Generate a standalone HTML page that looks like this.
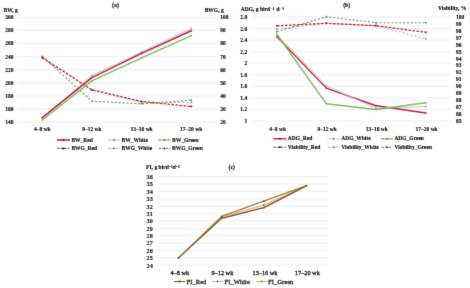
<!DOCTYPE html>
<html><head><meta charset="utf-8"><style>
html,body{margin:0;padding:0;background:#fff;}
body{width:470px;height:288px;overflow:hidden;}
svg{display:block;font-family:"Liberation Serif", serif;will-change:transform;}
</style></head><body>
<svg width="470" height="288" viewBox="0 0 470 288">
<defs><filter id="bl" x="0" y="0" width="470" height="288" filterUnits="userSpaceOnUse" color-interpolation-filters="sRGB"><feConvolveMatrix order="3" kernelMatrix="0 1 0 1 8 1 0 1 0" edgeMode="none"/></filter></defs>
<rect width="470" height="288" fill="#fff"/>
<g filter="url(#bl)">
<rect width="470" height="288" fill="#fff"/>
<line x1="17.50" y1="17.30" x2="216.00" y2="17.30" stroke="#e6e6e6" stroke-width="0.6" />
<text x="13.50" y="19.17" font-size="5.5" text-anchor="end" font-weight="bold" fill="#111" stroke="#111" stroke-width="0.15" >300</text>
<text x="220.20" y="19.17" font-size="5.5" text-anchor="start" font-weight="bold" fill="#111" stroke="#111" stroke-width="0.15" >100</text>
<line x1="17.50" y1="30.41" x2="216.00" y2="30.41" stroke="#e6e6e6" stroke-width="0.6" />
<text x="13.50" y="32.28" font-size="5.5" text-anchor="end" font-weight="bold" fill="#111" stroke="#111" stroke-width="0.15" >280</text>
<text x="220.20" y="32.28" font-size="5.5" text-anchor="start" font-weight="bold" fill="#111" stroke="#111" stroke-width="0.15" >90</text>
<line x1="17.50" y1="43.53" x2="216.00" y2="43.53" stroke="#e6e6e6" stroke-width="0.6" />
<text x="13.50" y="45.40" font-size="5.5" text-anchor="end" font-weight="bold" fill="#111" stroke="#111" stroke-width="0.15" >260</text>
<text x="220.20" y="45.40" font-size="5.5" text-anchor="start" font-weight="bold" fill="#111" stroke="#111" stroke-width="0.15" >80</text>
<line x1="17.50" y1="56.64" x2="216.00" y2="56.64" stroke="#e6e6e6" stroke-width="0.6" />
<text x="13.50" y="58.51" font-size="5.5" text-anchor="end" font-weight="bold" fill="#111" stroke="#111" stroke-width="0.15" >240</text>
<text x="220.20" y="58.51" font-size="5.5" text-anchor="start" font-weight="bold" fill="#111" stroke="#111" stroke-width="0.15" >70</text>
<line x1="17.50" y1="69.75" x2="216.00" y2="69.75" stroke="#e6e6e6" stroke-width="0.6" />
<text x="13.50" y="71.62" font-size="5.5" text-anchor="end" font-weight="bold" fill="#111" stroke="#111" stroke-width="0.15" >220</text>
<text x="220.20" y="71.62" font-size="5.5" text-anchor="start" font-weight="bold" fill="#111" stroke="#111" stroke-width="0.15" >60</text>
<line x1="17.50" y1="82.86" x2="216.00" y2="82.86" stroke="#e6e6e6" stroke-width="0.6" />
<text x="13.50" y="84.73" font-size="5.5" text-anchor="end" font-weight="bold" fill="#111" stroke="#111" stroke-width="0.15" >200</text>
<text x="220.20" y="84.73" font-size="5.5" text-anchor="start" font-weight="bold" fill="#111" stroke="#111" stroke-width="0.15" >50</text>
<line x1="17.50" y1="95.98" x2="216.00" y2="95.98" stroke="#e6e6e6" stroke-width="0.6" />
<text x="13.50" y="97.85" font-size="5.5" text-anchor="end" font-weight="bold" fill="#111" stroke="#111" stroke-width="0.15" >180</text>
<text x="220.20" y="97.85" font-size="5.5" text-anchor="start" font-weight="bold" fill="#111" stroke="#111" stroke-width="0.15" >40</text>
<line x1="17.50" y1="109.09" x2="216.00" y2="109.09" stroke="#e6e6e6" stroke-width="0.6" />
<text x="13.50" y="110.96" font-size="5.5" text-anchor="end" font-weight="bold" fill="#111" stroke="#111" stroke-width="0.15" >160</text>
<text x="220.20" y="110.96" font-size="5.5" text-anchor="start" font-weight="bold" fill="#111" stroke="#111" stroke-width="0.15" >30</text>
<line x1="17.50" y1="122.20" x2="216.00" y2="122.20" stroke="#e6e6e6" stroke-width="0.6" />
<text x="13.50" y="124.07" font-size="5.5" text-anchor="end" font-weight="bold" fill="#111" stroke="#111" stroke-width="0.15" >140</text>
<text x="220.20" y="124.07" font-size="5.5" text-anchor="start" font-weight="bold" fill="#111" stroke="#111" stroke-width="0.15" >20</text>
<text x="3.50" y="11.77" font-size="5.5" text-anchor="start" font-weight="bold" fill="#111" stroke="#111" stroke-width="0.15" >BW, g</text>
<text x="204.70" y="11.87" font-size="5.5" text-anchor="start" font-weight="bold" fill="#111" stroke="#111" stroke-width="0.15" >BWG, g</text>
<text x="115.50" y="7.07" font-size="5.8" text-anchor="middle" font-weight="bold" fill="#111" stroke="#111" stroke-width="0.15" >(a)</text>
<text x="42.30" y="131.27" font-size="5.5" text-anchor="middle" font-weight="bold" fill="#111" stroke="#111" stroke-width="0.15" >4–8 wk</text>
<text x="91.90" y="131.27" font-size="5.5" text-anchor="middle" font-weight="bold" fill="#111" stroke="#111" stroke-width="0.15" >9–12 wk</text>
<text x="141.60" y="131.27" font-size="5.5" text-anchor="middle" font-weight="bold" fill="#111" stroke="#111" stroke-width="0.15" >13–16 wk</text>
<text x="191.20" y="131.27" font-size="5.5" text-anchor="middle" font-weight="bold" fill="#111" stroke="#111" stroke-width="0.15" >17–20 wk</text>
<polyline points="42.30,56.64 91.90,90.07 141.60,102.53 191.20,102.53" fill="none" stroke="#b0b0b0" stroke-width="1.0" stroke-linejoin="round" stroke-dasharray="2.1,2" />
<circle cx="42.30" cy="56.64" r="1.0" fill="#999"/>
<circle cx="91.90" cy="90.07" r="1.0" fill="#999"/>
<circle cx="141.60" cy="102.53" r="1.0" fill="#999"/>
<circle cx="191.20" cy="102.53" r="1.0" fill="#999"/>
<polyline points="42.30,56.38 91.90,101.22 141.60,103.84 191.20,100.17" fill="none" stroke="#5fa552" stroke-width="1.1" stroke-linejoin="round" stroke-dasharray="2.1,1.8" />
<circle cx="42.30" cy="56.38" r="1.0" fill="#5fa552"/>
<circle cx="91.90" cy="101.22" r="1.0" fill="#5fa552"/>
<circle cx="141.60" cy="103.84" r="1.0" fill="#5fa552"/>
<circle cx="191.20" cy="100.17" r="1.0" fill="#5fa552"/>
<polyline points="42.30,57.95 91.90,89.81 141.60,101.48 191.20,106.47" fill="none" stroke="#d41a3c" stroke-width="1.3" stroke-linejoin="round" stroke-dasharray="2.6,1.4" />
<circle cx="42.30" cy="57.95" r="1.1" fill="#d41a3c"/>
<circle cx="91.90" cy="89.81" r="1.1" fill="#d41a3c"/>
<circle cx="141.60" cy="101.48" r="1.1" fill="#d41a3c"/>
<circle cx="191.20" cy="106.47" r="1.1" fill="#d41a3c"/>
<polyline points="42.30,118.27 91.90,75.65 141.60,52.05 191.20,28.45" fill="none" stroke="#c0c0c0" stroke-width="1.0" stroke-linejoin="round" />
<circle cx="42.30" cy="118.27" r="0.9" fill="#999"/>
<circle cx="91.90" cy="75.65" r="0.9" fill="#999"/>
<circle cx="141.60" cy="52.05" r="0.9" fill="#999"/>
<circle cx="191.20" cy="28.45" r="0.9" fill="#999"/>
<polyline points="42.30,119.91 91.90,80.90 141.60,57.95 191.20,35.66" fill="none" stroke="#72c25c" stroke-width="1.35" stroke-linejoin="round" />
<circle cx="42.30" cy="119.91" r="0.9" fill="#72c25c"/>
<circle cx="91.90" cy="80.90" r="0.9" fill="#72c25c"/>
<circle cx="141.60" cy="57.95" r="0.9" fill="#72c25c"/>
<circle cx="191.20" cy="35.66" r="0.9" fill="#72c25c"/>
<polyline points="42.30,117.61 91.90,77.62 141.60,53.36 191.20,30.74" fill="none" stroke="#d41a3c" stroke-width="1.55" stroke-linejoin="round" />
<circle cx="42.30" cy="117.61" r="0.9" fill="#d41a3c"/>
<circle cx="91.90" cy="77.62" r="0.9" fill="#d41a3c"/>
<circle cx="141.60" cy="53.36" r="0.9" fill="#d41a3c"/>
<circle cx="191.20" cy="30.74" r="0.9" fill="#d41a3c"/>
<line x1="56.80" y1="140.00" x2="70.00" y2="140.00" stroke="#d41a3c" stroke-width="1.55" />
<circle cx="63.40" cy="140.00" r="1.15" fill="#c8102e"/>
<text x="71.40" y="141.57" font-size="5.5" text-anchor="start" font-weight="bold" fill="#111" stroke="#111" stroke-width="0.15" >BW_Red</text>
<line x1="57.40" y1="148.40" x2="69.40" y2="148.40" stroke="#4a3418" stroke-width="1.0" stroke-dasharray="2.2,1.3" />
<circle cx="63.40" cy="148.40" r="1.0" fill="#2a1a08"/>
<text x="71.40" y="149.97" font-size="5.5" text-anchor="start" font-weight="bold" fill="#111" stroke="#111" stroke-width="0.15" >BWG_Red</text>
<line x1="107.80" y1="140.00" x2="120.20" y2="140.00" stroke="#c0c0c0" stroke-width="1.0" />
<circle cx="114.00" cy="140.00" r="1.15" fill="#909090"/>
<text x="121.60" y="141.57" font-size="5.5" text-anchor="start" font-weight="bold" fill="#111" stroke="#111" stroke-width="0.15" >BW_White</text>
<line x1="108.40" y1="148.40" x2="119.60" y2="148.40" stroke="#a8a8a8" stroke-width="1.0" stroke-dasharray="2.2,1.3" />
<circle cx="114.00" cy="148.40" r="1.0" fill="#808080"/>
<text x="121.60" y="149.97" font-size="5.5" text-anchor="start" font-weight="bold" fill="#111" stroke="#111" stroke-width="0.15" >BWG_White</text>
<line x1="158.30" y1="140.00" x2="170.70" y2="140.00" stroke="#72c25c" stroke-width="1.35" />
<circle cx="164.50" cy="140.00" r="1.15" fill="#5fb040"/>
<text x="172.10" y="141.57" font-size="5.5" text-anchor="start" font-weight="bold" fill="#111" stroke="#111" stroke-width="0.15" >BW_Green</text>
<line x1="158.90" y1="148.40" x2="170.10" y2="148.40" stroke="#5d7044" stroke-width="1.0" stroke-dasharray="2.2,1.3" />
<circle cx="164.50" cy="148.40" r="1.0" fill="#3d5024"/>
<text x="172.10" y="149.97" font-size="5.5" text-anchor="start" font-weight="bold" fill="#111" stroke="#111" stroke-width="0.15" >BWG_Green</text>
<line x1="250.00" y1="17.10" x2="451.00" y2="17.10" stroke="#e6e6e6" stroke-width="0.6" />
<text x="247.20" y="18.97" font-size="5.5" text-anchor="end" font-weight="bold" fill="#111" stroke="#111" stroke-width="0.15" >2.8</text>
<line x1="250.00" y1="28.64" x2="451.00" y2="28.64" stroke="#e6e6e6" stroke-width="0.6" />
<text x="247.20" y="30.51" font-size="5.5" text-anchor="end" font-weight="bold" fill="#111" stroke="#111" stroke-width="0.15" >2.6</text>
<line x1="250.00" y1="40.19" x2="451.00" y2="40.19" stroke="#e6e6e6" stroke-width="0.6" />
<text x="247.20" y="42.06" font-size="5.5" text-anchor="end" font-weight="bold" fill="#111" stroke="#111" stroke-width="0.15" >2.4</text>
<line x1="250.00" y1="51.73" x2="451.00" y2="51.73" stroke="#e6e6e6" stroke-width="0.6" />
<text x="247.20" y="53.60" font-size="5.5" text-anchor="end" font-weight="bold" fill="#111" stroke="#111" stroke-width="0.15" >2.2</text>
<line x1="250.00" y1="63.28" x2="451.00" y2="63.28" stroke="#e6e6e6" stroke-width="0.6" />
<text x="247.20" y="65.15" font-size="5.5" text-anchor="end" font-weight="bold" fill="#111" stroke="#111" stroke-width="0.15" >2</text>
<line x1="250.00" y1="74.82" x2="451.00" y2="74.82" stroke="#e6e6e6" stroke-width="0.6" />
<text x="247.20" y="76.69" font-size="5.5" text-anchor="end" font-weight="bold" fill="#111" stroke="#111" stroke-width="0.15" >1.8</text>
<line x1="250.00" y1="86.37" x2="451.00" y2="86.37" stroke="#e6e6e6" stroke-width="0.6" />
<text x="247.20" y="88.24" font-size="5.5" text-anchor="end" font-weight="bold" fill="#111" stroke="#111" stroke-width="0.15" >1.6</text>
<line x1="250.00" y1="97.91" x2="451.00" y2="97.91" stroke="#e6e6e6" stroke-width="0.6" />
<text x="247.20" y="99.78" font-size="5.5" text-anchor="end" font-weight="bold" fill="#111" stroke="#111" stroke-width="0.15" >1.4</text>
<line x1="250.00" y1="109.46" x2="451.00" y2="109.46" stroke="#e6e6e6" stroke-width="0.6" />
<text x="247.20" y="111.33" font-size="5.5" text-anchor="end" font-weight="bold" fill="#111" stroke="#111" stroke-width="0.15" >1.2</text>
<line x1="250.00" y1="121.00" x2="451.00" y2="121.00" stroke="#e6e6e6" stroke-width="0.6" />
<text x="247.20" y="122.87" font-size="5.5" text-anchor="end" font-weight="bold" fill="#111" stroke="#111" stroke-width="0.15" >1</text>
<text x="456.00" y="18.97" font-size="5.5" text-anchor="start" font-weight="bold" fill="#111" stroke="#111" stroke-width="0.15" >100</text>
<text x="456.00" y="25.90" font-size="5.5" text-anchor="start" font-weight="bold" fill="#111" stroke="#111" stroke-width="0.15" >99</text>
<text x="456.00" y="32.82" font-size="5.5" text-anchor="start" font-weight="bold" fill="#111" stroke="#111" stroke-width="0.15" >98</text>
<text x="456.00" y="39.75" font-size="5.5" text-anchor="start" font-weight="bold" fill="#111" stroke="#111" stroke-width="0.15" >97</text>
<text x="456.00" y="46.68" font-size="5.5" text-anchor="start" font-weight="bold" fill="#111" stroke="#111" stroke-width="0.15" >96</text>
<text x="456.00" y="53.60" font-size="5.5" text-anchor="start" font-weight="bold" fill="#111" stroke="#111" stroke-width="0.15" >95</text>
<text x="456.00" y="60.53" font-size="5.5" text-anchor="start" font-weight="bold" fill="#111" stroke="#111" stroke-width="0.15" >94</text>
<text x="456.00" y="67.46" font-size="5.5" text-anchor="start" font-weight="bold" fill="#111" stroke="#111" stroke-width="0.15" >93</text>
<text x="456.00" y="74.38" font-size="5.5" text-anchor="start" font-weight="bold" fill="#111" stroke="#111" stroke-width="0.15" >92</text>
<text x="456.00" y="81.31" font-size="5.5" text-anchor="start" font-weight="bold" fill="#111" stroke="#111" stroke-width="0.15" >91</text>
<text x="456.00" y="88.24" font-size="5.5" text-anchor="start" font-weight="bold" fill="#111" stroke="#111" stroke-width="0.15" >90</text>
<text x="456.00" y="95.16" font-size="5.5" text-anchor="start" font-weight="bold" fill="#111" stroke="#111" stroke-width="0.15" >89</text>
<text x="456.00" y="102.09" font-size="5.5" text-anchor="start" font-weight="bold" fill="#111" stroke="#111" stroke-width="0.15" >88</text>
<text x="456.00" y="109.02" font-size="5.5" text-anchor="start" font-weight="bold" fill="#111" stroke="#111" stroke-width="0.15" >87</text>
<text x="456.00" y="115.94" font-size="5.5" text-anchor="start" font-weight="bold" fill="#111" stroke="#111" stroke-width="0.15" >86</text>
<text x="456.00" y="122.87" font-size="5.5" text-anchor="start" font-weight="bold" fill="#111" stroke="#111" stroke-width="0.15" >85</text>
<text x="240.80" y="11.07" font-size="5.5" text-anchor="start" font-weight="bold" fill="#111" stroke="#111" stroke-width="0.15" >ADG, g bird<tspan font-size="3.5" dx="0.9" dy="-1.2">−1</tspan><tspan dx="0.4" dy="1.2"> d</tspan><tspan font-size="3.5" dx="0.9" dy="-1.2">−1</tspan></text>
<text x="438.00" y="9.57" font-size="5.5" text-anchor="start" font-weight="bold" fill="#111" stroke="#111" stroke-width="0.15" >Viability, %</text>
<text x="346.70" y="7.47" font-size="5.8" text-anchor="middle" font-weight="bold" fill="#111" stroke="#111" stroke-width="0.15" >(b)</text>
<text x="277.70" y="130.67" font-size="5.5" text-anchor="middle" font-weight="bold" fill="#111" stroke="#111" stroke-width="0.15" >4–8 wk</text>
<text x="327.10" y="130.67" font-size="5.5" text-anchor="middle" font-weight="bold" fill="#111" stroke="#111" stroke-width="0.15" >9–12 wk</text>
<text x="376.80" y="130.67" font-size="5.5" text-anchor="middle" font-weight="bold" fill="#111" stroke="#111" stroke-width="0.15" >13–16 wk</text>
<text x="426.60" y="130.67" font-size="5.5" text-anchor="middle" font-weight="bold" fill="#111" stroke="#111" stroke-width="0.15" >17–20 wk</text>
<polyline points="276.90,29.08 326.30,23.33 376.00,25.69 425.80,38.78" fill="none" stroke="#b0b0b0" stroke-width="1.0" stroke-linejoin="round" stroke-dasharray="2.1,2" />
<circle cx="276.90" cy="29.08" r="1.0" fill="#999"/>
<circle cx="326.30" cy="23.33" r="1.0" fill="#999"/>
<circle cx="376.00" cy="25.69" r="1.0" fill="#999"/>
<circle cx="425.80" cy="38.78" r="1.0" fill="#999"/>
<polyline points="276.90,31.65 326.30,16.75 376.00,22.71 425.80,22.71" fill="none" stroke="#5fa552" stroke-width="1.1" stroke-linejoin="round" stroke-dasharray="2.1,1.8" />
<circle cx="276.90" cy="31.65" r="1.0" fill="#5fa552"/>
<circle cx="326.30" cy="16.75" r="1.0" fill="#5fa552"/>
<circle cx="376.00" cy="22.71" r="1.0" fill="#5fa552"/>
<circle cx="425.80" cy="22.71" r="1.0" fill="#5fa552"/>
<polyline points="276.90,25.76 326.30,23.33 376.00,25.69 425.80,32.34" fill="none" stroke="#d41a3c" stroke-width="1.3" stroke-linejoin="round" stroke-dasharray="2.6,1.4" />
<circle cx="276.90" cy="25.76" r="1.1" fill="#d41a3c"/>
<circle cx="326.30" cy="23.33" r="1.1" fill="#d41a3c"/>
<circle cx="376.00" cy="25.69" r="1.1" fill="#d41a3c"/>
<circle cx="425.80" cy="32.34" r="1.1" fill="#d41a3c"/>
<polyline points="276.90,36.73 326.30,88.10 376.00,105.76 425.80,113.03" fill="none" stroke="#d41a3c" stroke-width="1.35" stroke-linejoin="round" />
<circle cx="276.90" cy="36.73" r="0.9" fill="#d41a3c"/>
<circle cx="326.30" cy="88.10" r="0.9" fill="#d41a3c"/>
<circle cx="376.00" cy="105.76" r="0.9" fill="#d41a3c"/>
<circle cx="425.80" cy="113.03" r="0.9" fill="#d41a3c"/>
<polyline points="276.90,34.42 326.30,85.79 376.00,108.30 425.80,106.57" fill="none" stroke="#c0c0c0" stroke-width="0.9" stroke-linejoin="round" />
<circle cx="276.90" cy="34.42" r="0.9" fill="#999"/>
<circle cx="326.30" cy="85.79" r="0.9" fill="#999"/>
<circle cx="376.00" cy="108.30" r="0.9" fill="#999"/>
<circle cx="425.80" cy="106.57" r="0.9" fill="#999"/>
<polyline points="276.90,34.42 326.30,103.68 376.00,109.46 425.80,102.82" fill="none" stroke="#72c25c" stroke-width="1.45" stroke-linejoin="round" />
<circle cx="276.90" cy="34.42" r="0.9" fill="#72c25c"/>
<circle cx="326.30" cy="103.68" r="0.9" fill="#72c25c"/>
<circle cx="376.00" cy="109.46" r="0.9" fill="#72c25c"/>
<circle cx="425.80" cy="102.82" r="0.9" fill="#72c25c"/>
<line x1="273.20" y1="138.80" x2="286.40" y2="138.80" stroke="#d41a3c" stroke-width="1.35" />
<circle cx="279.80" cy="138.80" r="1.15" fill="#c8102e"/>
<text x="287.80" y="140.37" font-size="5.5" text-anchor="start" font-weight="bold" fill="#111" stroke="#111" stroke-width="0.15" >ADG_Red</text>
<line x1="273.80" y1="147.20" x2="285.80" y2="147.20" stroke="#4a3418" stroke-width="1.0" stroke-dasharray="2.2,1.3" />
<circle cx="279.80" cy="147.20" r="1.0" fill="#2a1a08"/>
<text x="287.80" y="148.77" font-size="5.5" text-anchor="start" font-weight="bold" fill="#111" stroke="#111" stroke-width="0.15" >Viability_Red</text>
<line x1="327.50" y1="138.80" x2="339.90" y2="138.80" stroke="#c0c0c0" stroke-width="0.9" />
<circle cx="333.70" cy="138.80" r="1.15" fill="#909090"/>
<text x="341.30" y="140.37" font-size="5.5" text-anchor="start" font-weight="bold" fill="#111" stroke="#111" stroke-width="0.15" >ADG_White</text>
<line x1="328.10" y1="147.20" x2="339.30" y2="147.20" stroke="#a8a8a8" stroke-width="1.0" stroke-dasharray="2.2,1.3" />
<circle cx="333.70" cy="147.20" r="1.0" fill="#808080"/>
<text x="341.30" y="148.77" font-size="5.5" text-anchor="start" font-weight="bold" fill="#111" stroke="#111" stroke-width="0.15" >Viability_White</text>
<line x1="381.00" y1="138.80" x2="393.00" y2="138.80" stroke="#72c25c" stroke-width="1.45" />
<circle cx="387.00" cy="138.80" r="1.15" fill="#5fb040"/>
<text x="394.40" y="140.37" font-size="5.5" text-anchor="start" font-weight="bold" fill="#111" stroke="#111" stroke-width="0.15" >ADG_Green</text>
<line x1="381.60" y1="147.20" x2="392.40" y2="147.20" stroke="#5d7044" stroke-width="1.0" stroke-dasharray="2.2,1.3" />
<circle cx="387.00" cy="147.20" r="1.0" fill="#3d5024"/>
<text x="394.40" y="148.77" font-size="5.5" text-anchor="start" font-weight="bold" fill="#111" stroke="#111" stroke-width="0.15" >Viability_Green</text>
<line x1="157.50" y1="176.70" x2="328.00" y2="176.70" stroke="#e6e6e6" stroke-width="0.7" />
<text x="152.80" y="179.11" font-size="6.2" text-anchor="end" font-weight="bold" fill="#222" stroke="#222" stroke-width="0.15" >36</text>
<line x1="157.50" y1="184.07" x2="328.00" y2="184.07" stroke="#e6e6e6" stroke-width="0.7" />
<text x="152.80" y="186.48" font-size="6.2" text-anchor="end" font-weight="bold" fill="#222" stroke="#222" stroke-width="0.15" >35</text>
<line x1="157.50" y1="191.45" x2="328.00" y2="191.45" stroke="#e6e6e6" stroke-width="0.7" />
<text x="152.80" y="193.86" font-size="6.2" text-anchor="end" font-weight="bold" fill="#222" stroke="#222" stroke-width="0.15" >34</text>
<line x1="157.50" y1="198.82" x2="328.00" y2="198.82" stroke="#e6e6e6" stroke-width="0.7" />
<text x="152.80" y="201.23" font-size="6.2" text-anchor="end" font-weight="bold" fill="#222" stroke="#222" stroke-width="0.15" >33</text>
<line x1="157.50" y1="206.20" x2="328.00" y2="206.20" stroke="#e6e6e6" stroke-width="0.7" />
<text x="152.80" y="208.61" font-size="6.2" text-anchor="end" font-weight="bold" fill="#222" stroke="#222" stroke-width="0.15" >32</text>
<line x1="157.50" y1="213.57" x2="328.00" y2="213.57" stroke="#e6e6e6" stroke-width="0.7" />
<text x="152.80" y="215.98" font-size="6.2" text-anchor="end" font-weight="bold" fill="#222" stroke="#222" stroke-width="0.15" >31</text>
<line x1="157.50" y1="220.95" x2="328.00" y2="220.95" stroke="#e6e6e6" stroke-width="0.7" />
<text x="152.80" y="223.36" font-size="6.2" text-anchor="end" font-weight="bold" fill="#222" stroke="#222" stroke-width="0.15" >30</text>
<line x1="157.50" y1="228.32" x2="328.00" y2="228.32" stroke="#e6e6e6" stroke-width="0.7" />
<text x="152.80" y="230.73" font-size="6.2" text-anchor="end" font-weight="bold" fill="#222" stroke="#222" stroke-width="0.15" >29</text>
<line x1="157.50" y1="235.70" x2="328.00" y2="235.70" stroke="#e6e6e6" stroke-width="0.7" />
<text x="152.80" y="238.11" font-size="6.2" text-anchor="end" font-weight="bold" fill="#222" stroke="#222" stroke-width="0.15" >28</text>
<line x1="157.50" y1="243.07" x2="328.00" y2="243.07" stroke="#e6e6e6" stroke-width="0.7" />
<text x="152.80" y="245.48" font-size="6.2" text-anchor="end" font-weight="bold" fill="#222" stroke="#222" stroke-width="0.15" >27</text>
<line x1="157.50" y1="250.45" x2="328.00" y2="250.45" stroke="#e6e6e6" stroke-width="0.7" />
<text x="152.80" y="252.86" font-size="6.2" text-anchor="end" font-weight="bold" fill="#222" stroke="#222" stroke-width="0.15" >26</text>
<line x1="157.50" y1="257.82" x2="328.00" y2="257.82" stroke="#e6e6e6" stroke-width="0.7" />
<text x="152.80" y="260.23" font-size="6.2" text-anchor="end" font-weight="bold" fill="#222" stroke="#222" stroke-width="0.15" >25</text>
<line x1="157.50" y1="265.20" x2="328.00" y2="265.20" stroke="#e6e6e6" stroke-width="0.7" />
<text x="152.80" y="267.61" font-size="6.2" text-anchor="end" font-weight="bold" fill="#222" stroke="#222" stroke-width="0.15" >24</text>
<text x="146.00" y="168.70" font-size="5.6" text-anchor="start" font-weight="bold" fill="#111" stroke="#111" stroke-width="0.15" >FI, g bird<tspan font-size="3.6" dy="-1.2">−1</tspan><tspan dy="1.2">d</tspan><tspan font-size="3.6" dy="-1.2">−1</tspan></text>
<text x="231.80" y="169.37" font-size="5.8" text-anchor="middle" font-weight="bold" fill="#111" stroke="#111" stroke-width="0.15" >(c)</text>
<text x="179.80" y="274.94" font-size="6.3" text-anchor="middle" font-weight="normal" fill="#222" stroke="#222" stroke-width="0.3" >4–8 wk</text>
<text x="222.40" y="274.94" font-size="6.3" text-anchor="middle" font-weight="normal" fill="#222" stroke="#222" stroke-width="0.3" >9–12 wk</text>
<text x="265.00" y="274.94" font-size="6.3" text-anchor="middle" font-weight="normal" fill="#222" stroke="#222" stroke-width="0.3" >13–16 wk</text>
<text x="307.30" y="274.94" font-size="6.3" text-anchor="middle" font-weight="normal" fill="#222" stroke="#222" stroke-width="0.3" >17–20 wk</text>
<polyline points="178.60,257.82 221.60,217.26 263.80,205.09 306.30,185.84" fill="none" stroke="#ecb4aa" stroke-width="1.5" stroke-linejoin="round" />
<circle cx="178.60" cy="257.82" r="0.9" fill="#6a5a30"/>
<circle cx="221.60" cy="217.26" r="0.9" fill="#6a5a30"/>
<circle cx="263.80" cy="205.09" r="0.9" fill="#6a5a30"/>
<circle cx="306.30" cy="185.84" r="0.9" fill="#6a5a30"/>
<polyline points="178.60,257.82 221.60,218.37 263.80,207.67 306.30,185.84" fill="none" stroke="#844420" stroke-width="1.25" stroke-linejoin="round" />
<circle cx="178.60" cy="257.82" r="0.9" fill="#6a5a30"/>
<circle cx="221.60" cy="218.37" r="0.9" fill="#6a5a30"/>
<circle cx="263.80" cy="207.67" r="0.9" fill="#6a5a30"/>
<circle cx="306.30" cy="185.84" r="0.9" fill="#6a5a30"/>
<polyline points="178.60,257.82 221.60,216.38 263.80,201.04 306.30,185.55" fill="none" stroke="#948838" stroke-width="1.25" stroke-linejoin="round" />
<circle cx="178.60" cy="257.82" r="0.9" fill="#6a5a30"/>
<circle cx="221.60" cy="216.38" r="0.9" fill="#6a5a30"/>
<circle cx="263.80" cy="201.04" r="0.9" fill="#6a5a30"/>
<circle cx="306.30" cy="185.55" r="0.9" fill="#6a5a30"/>
<line x1="174.00" y1="281.50" x2="185.10" y2="281.50" stroke="#6b4520" stroke-width="0.9" />
<circle cx="179.55" cy="281.50" r="0.9" fill="#4a3010"/>
<text x="186.60" y="283.74" font-size="6.6" text-anchor="start" font-weight="normal" fill="#2a2a2a" stroke="#2a2a2a" stroke-width="0.3" >FI_Red</text>
<line x1="212.10" y1="281.50" x2="223.00" y2="281.50" stroke="#b0b0b0" stroke-width="0.9" />
<circle cx="217.55" cy="281.50" r="0.9" fill="#555"/>
<text x="224.60" y="283.74" font-size="6.6" text-anchor="start" font-weight="normal" fill="#2a2a2a" stroke="#2a2a2a" stroke-width="0.3" >FI_White</text>
<line x1="256.00" y1="281.50" x2="267.50" y2="281.50" stroke="#9bbb59" stroke-width="0.9" />
<circle cx="261.75" cy="281.50" r="0.9" fill="#6a8a30"/>
<text x="268.10" y="283.74" font-size="6.6" text-anchor="start" font-weight="normal" fill="#2a2a2a" stroke="#2a2a2a" stroke-width="0.3" >FI_Green</text>
</g>
</svg>
</body></html>
